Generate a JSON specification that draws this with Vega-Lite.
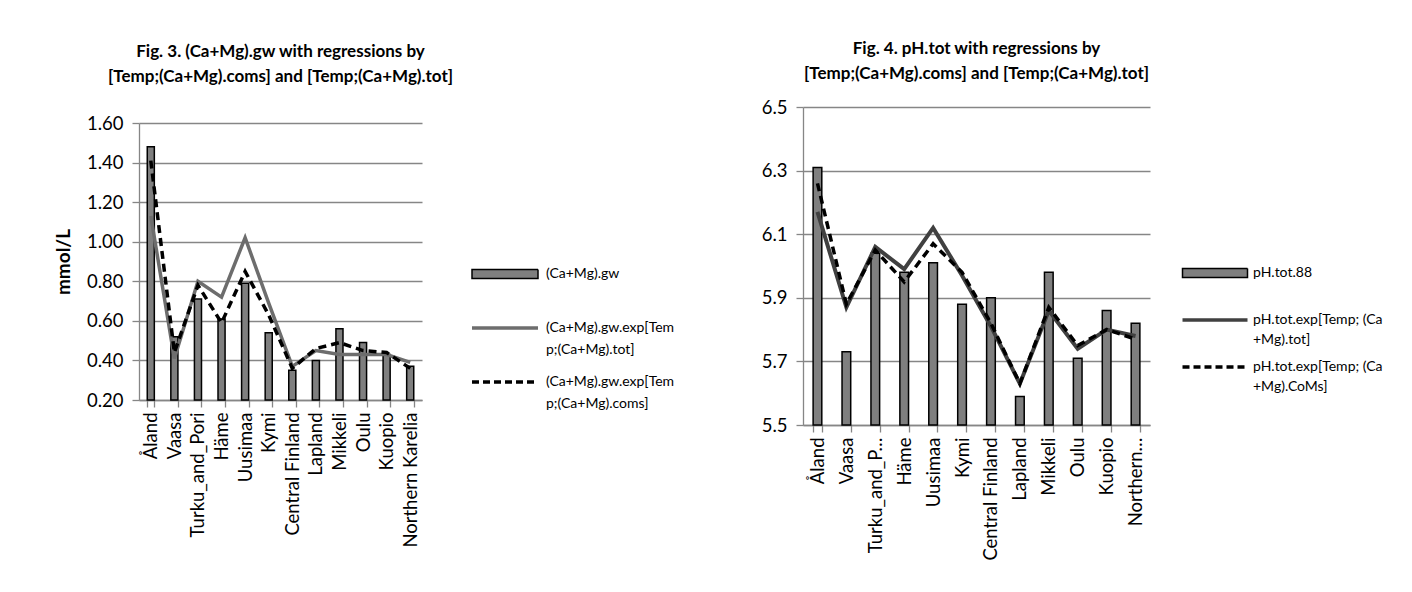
{
  "$schema": "https://vega.github.io/schema/vega-lite/v6.json",
  "background": "white",
  "padding": {"left": 54, "top": 40, "right": 5, "bottom": 5},
  "config": {
    "font": "Lato",
    "view": {"stroke": null},
    "axis": {"labelFont": "Lato", "labelFontSize": 18.5, "labelColor": "#000000", "domainColor": "#868686", "tickColor": "#868686", "gridColor": "#868686", "domainWidth": 1.3, "tickWidth": 1.3, "gridWidth": 1.3, "tickSize": 7, "labelOverlap": false},
    "title": {"font": "Lato", "fontSize": 17, "fontWeight": "bold", "color": "#000000", "anchor": "middle", "frame": "group", "lineHeight": 25}
  },
  "datasets": {
    "gw": [
      {"region": "Åland", "series": "(Ca+Mg).gw", "value": 1.48},
      {"region": "Vaasa", "series": "(Ca+Mg).gw", "value": 0.52},
      {"region": "Turku_and_Pori", "series": "(Ca+Mg).gw", "value": 0.71},
      {"region": "Häme", "series": "(Ca+Mg).gw", "value": 0.61},
      {"region": "Uusimaa", "series": "(Ca+Mg).gw", "value": 0.79},
      {"region": "Kymi", "series": "(Ca+Mg).gw", "value": 0.54},
      {"region": "Central Finland", "series": "(Ca+Mg).gw", "value": 0.35},
      {"region": "Lapland", "series": "(Ca+Mg).gw", "value": 0.40},
      {"region": "Mikkeli", "series": "(Ca+Mg).gw", "value": 0.56},
      {"region": "Oulu", "series": "(Ca+Mg).gw", "value": 0.49},
      {"region": "Kuopio", "series": "(Ca+Mg).gw", "value": 0.43},
      {"region": "Northern Karelia", "series": "(Ca+Mg).gw", "value": 0.37},
      {"region": "Åland", "series": "(Ca+Mg).gw.exp[Temp;(Ca+Mg).tot]", "value": 1.13},
      {"region": "Vaasa", "series": "(Ca+Mg).gw.exp[Temp;(Ca+Mg).tot]", "value": 0.41},
      {"region": "Turku_and_Pori", "series": "(Ca+Mg).gw.exp[Temp;(Ca+Mg).tot]", "value": 0.80},
      {"region": "Häme", "series": "(Ca+Mg).gw.exp[Temp;(Ca+Mg).tot]", "value": 0.72},
      {"region": "Uusimaa", "series": "(Ca+Mg).gw.exp[Temp;(Ca+Mg).tot]", "value": 1.02},
      {"region": "Kymi", "series": "(Ca+Mg).gw.exp[Temp;(Ca+Mg).tot]", "value": 0.69},
      {"region": "Central Finland", "series": "(Ca+Mg).gw.exp[Temp;(Ca+Mg).tot]", "value": 0.37},
      {"region": "Lapland", "series": "(Ca+Mg).gw.exp[Temp;(Ca+Mg).tot]", "value": 0.45},
      {"region": "Mikkeli", "series": "(Ca+Mg).gw.exp[Temp;(Ca+Mg).tot]", "value": 0.43},
      {"region": "Oulu", "series": "(Ca+Mg).gw.exp[Temp;(Ca+Mg).tot]", "value": 0.43},
      {"region": "Kuopio", "series": "(Ca+Mg).gw.exp[Temp;(Ca+Mg).tot]", "value": 0.43},
      {"region": "Northern Karelia", "series": "(Ca+Mg).gw.exp[Temp;(Ca+Mg).tot]", "value": 0.39},
      {"region": "Åland", "series": "(Ca+Mg).gw.exp[Temp;(Ca+Mg).coms]", "value": 1.41},
      {"region": "Vaasa", "series": "(Ca+Mg).gw.exp[Temp;(Ca+Mg).coms]", "value": 0.44},
      {"region": "Turku_and_Pori", "series": "(Ca+Mg).gw.exp[Temp;(Ca+Mg).coms]", "value": 0.78},
      {"region": "Häme", "series": "(Ca+Mg).gw.exp[Temp;(Ca+Mg).coms]", "value": 0.59},
      {"region": "Uusimaa", "series": "(Ca+Mg).gw.exp[Temp;(Ca+Mg).coms]", "value": 0.85},
      {"region": "Kymi", "series": "(Ca+Mg).gw.exp[Temp;(Ca+Mg).coms]", "value": 0.63},
      {"region": "Central Finland", "series": "(Ca+Mg).gw.exp[Temp;(Ca+Mg).coms]", "value": 0.36},
      {"region": "Lapland", "series": "(Ca+Mg).gw.exp[Temp;(Ca+Mg).coms]", "value": 0.46},
      {"region": "Mikkeli", "series": "(Ca+Mg).gw.exp[Temp;(Ca+Mg).coms]", "value": 0.49},
      {"region": "Oulu", "series": "(Ca+Mg).gw.exp[Temp;(Ca+Mg).coms]", "value": 0.45},
      {"region": "Kuopio", "series": "(Ca+Mg).gw.exp[Temp;(Ca+Mg).coms]", "value": 0.44},
      {"region": "Northern Karelia", "series": "(Ca+Mg).gw.exp[Temp;(Ca+Mg).coms]", "value": 0.36}
    ],
    "ph": [
      {"region": "Åland", "series": "pH.tot.88", "value": 6.31},
      {"region": "Vaasa", "series": "pH.tot.88", "value": 5.73},
      {"region": "Turku_and_Pori", "series": "pH.tot.88", "value": 6.04},
      {"region": "Häme", "series": "pH.tot.88", "value": 5.98},
      {"region": "Uusimaa", "series": "pH.tot.88", "value": 6.01},
      {"region": "Kymi", "series": "pH.tot.88", "value": 5.88},
      {"region": "Central Finland", "series": "pH.tot.88", "value": 5.90},
      {"region": "Lapland", "series": "pH.tot.88", "value": 5.59},
      {"region": "Mikkeli", "series": "pH.tot.88", "value": 5.98},
      {"region": "Oulu", "series": "pH.tot.88", "value": 5.71},
      {"region": "Kuopio", "series": "pH.tot.88", "value": 5.86},
      {"region": "Northern Karelia", "series": "pH.tot.88", "value": 5.82},
      {"region": "Åland", "series": "pH.tot.exp[Temp; (Ca+Mg).tot]", "value": 6.17},
      {"region": "Vaasa", "series": "pH.tot.exp[Temp; (Ca+Mg).tot]", "value": 5.87},
      {"region": "Turku_and_Pori", "series": "pH.tot.exp[Temp; (Ca+Mg).tot]", "value": 6.06},
      {"region": "Häme", "series": "pH.tot.exp[Temp; (Ca+Mg).tot]", "value": 5.99},
      {"region": "Uusimaa", "series": "pH.tot.exp[Temp; (Ca+Mg).tot]", "value": 6.12},
      {"region": "Kymi", "series": "pH.tot.exp[Temp; (Ca+Mg).tot]", "value": 5.97},
      {"region": "Central Finland", "series": "pH.tot.exp[Temp; (Ca+Mg).tot]", "value": 5.81},
      {"region": "Lapland", "series": "pH.tot.exp[Temp; (Ca+Mg).tot]", "value": 5.63},
      {"region": "Mikkeli", "series": "pH.tot.exp[Temp; (Ca+Mg).tot]", "value": 5.86},
      {"region": "Oulu", "series": "pH.tot.exp[Temp; (Ca+Mg).tot]", "value": 5.74},
      {"region": "Kuopio", "series": "pH.tot.exp[Temp; (Ca+Mg).tot]", "value": 5.80},
      {"region": "Northern Karelia", "series": "pH.tot.exp[Temp; (Ca+Mg).tot]", "value": 5.78},
      {"region": "Åland", "series": "pH.tot.exp[Temp; (Ca+Mg).CoMs]", "value": 6.26},
      {"region": "Vaasa", "series": "pH.tot.exp[Temp; (Ca+Mg).CoMs]", "value": 5.88},
      {"region": "Turku_and_Pori", "series": "pH.tot.exp[Temp; (Ca+Mg).CoMs]", "value": 6.05},
      {"region": "Häme", "series": "pH.tot.exp[Temp; (Ca+Mg).CoMs]", "value": 5.95},
      {"region": "Uusimaa", "series": "pH.tot.exp[Temp; (Ca+Mg).CoMs]", "value": 6.07},
      {"region": "Kymi", "series": "pH.tot.exp[Temp; (Ca+Mg).CoMs]", "value": 5.98},
      {"region": "Central Finland", "series": "pH.tot.exp[Temp; (Ca+Mg).CoMs]", "value": 5.82},
      {"region": "Lapland", "series": "pH.tot.exp[Temp; (Ca+Mg).CoMs]", "value": 5.63},
      {"region": "Mikkeli", "series": "pH.tot.exp[Temp; (Ca+Mg).CoMs]", "value": 5.87},
      {"region": "Oulu", "series": "pH.tot.exp[Temp; (Ca+Mg).CoMs]", "value": 5.75},
      {"region": "Kuopio", "series": "pH.tot.exp[Temp; (Ca+Mg).CoMs]", "value": 5.80},
      {"region": "Northern Karelia", "series": "pH.tot.exp[Temp; (Ca+Mg).CoMs]", "value": 5.77}
    ]
  },
  "spacing": 86,
  "resolve": {"scale": {"color": "independent"}, "legend": {"color": "independent"}},
  "hconcat": [
    {
      "width": 283,
      "height": 293,
      "title": {"text": ["Fig. 3. (Ca+Mg).gw with regressions by", "[Temp;(Ca+Mg).coms] and [Temp;(Ca+Mg).tot]"], "offset": 21},
      "data": {"name": "gw"},
      "encoding": {
        "x": {"field": "region", "type": "nominal", "sort": null,
          "scale": {"paddingInner": 0.7, "paddingOuter": 0.35},
          "axis": {"title": null, "labelAngle": -90, "tickBand": "extent", "labelPadding": 5}}
      },
      "layer": [
        {
          "transform": [{"filter": "datum.series == '(Ca+Mg).gw'"}],
          "mark": {"type": "bar", "fill": "#7f7f7f", "stroke": "#000000", "strokeWidth": 1.5},
          "encoding": {
            "y": {"field": "value", "type": "quantitative",
              "scale": {"domain": [0.2, 1.6], "nice": false, "zero": false, "range": [293, 16]},
              "axis": {"values": [0.2, 0.4, 0.6, 0.8, 1.0, 1.2, 1.4, 1.6], "format": ".2f", "title": "mmol/L", "titleFont": "Lato", "titleFontSize": 19, "titleFontWeight": "bold", "titleColor": "#000000", "titlePadding": 13, "labelPadding": 9, "grid": true}},
            "y2": {"datum": 0.2}
          }
        },
        {
          "transform": [{"filter": "datum.series == '(Ca+Mg).gw.exp[Temp;(Ca+Mg).tot]'"}],
          "mark": {"type": "line", "strokeWidth": 3.5},
          "encoding": {
            "y": {"field": "value", "type": "quantitative"},
            "color": {"field": "series", "type": "nominal",
              "scale": {"domain": ["(Ca+Mg).gw", "(Ca+Mg).gw.exp[Temp;(Ca+Mg).tot]", "(Ca+Mg).gw.exp[Temp;(Ca+Mg).coms]"], "range": ["#000000", "#6d6d6d", "#000000"]},
              "legend": {
                "title": null, "orient": "none", "legendX": 359, "legendY": 160,
                "symbolSize": 4356, "labelFont": "Lato", "labelFontSize": 14, "labelColor": "#000000",
                "labelOffset": 34, "rowPadding": 18, "labelLimit": 300,
                "labelExpr": "length(datum.label) < 20 ? [datum.label, ''] : [substring(datum.label, 0, 18), substring(datum.label, 18)]",
                "encode": {
                  "symbols": {"update": {
                    "shape": {"signal": "datum.value == '(Ca+Mg).gw' ? 'M-1,-0.14H1V0.14H-1Z' : 'M-1,0H1'"},
                    "fill": {"signal": "datum.value == '(Ca+Mg).gw' ? '#7f7f7f' : 'transparent'"},
                    "stroke": {"signal": "datum.value == '(Ca+Mg).gw.exp[Temp;(Ca+Mg).tot]' ? '#6d6d6d' : '#000000'"},
                    "strokeWidth": {"signal": "datum.value == '(Ca+Mg).gw' ? 1.5 : 3.5"},
                    "strokeDash": {"signal": "datum.value == '(Ca+Mg).gw.exp[Temp;(Ca+Mg).coms]' ? [7, 4] : [1, 0]"},
                    "opacity": {"value": 1}
                  }},
                  "labels": {"update": {"lineHeight": {"value": 22}}}
                }
              }
            }
          }
        },
        {
          "transform": [{"filter": "datum.series == '(Ca+Mg).gw.exp[Temp;(Ca+Mg).coms]'"}],
          "mark": {"type": "line", "stroke": "#000000", "strokeWidth": 3.5, "strokeDash": [8, 5]},
          "encoding": {"y": {"field": "value", "type": "quantitative"}}
        }
      ]
    },
    {
      "width": 347,
      "height": 318,
      "title": {"text": ["Fig. 4. pH.tot with regressions by", "[Temp;(Ca+Mg).coms] and [Temp;(Ca+Mg).tot]"], "offset": 15},
      "data": {"name": "ph"},
      "encoding": {
        "x": {"field": "region", "type": "nominal", "sort": null,
          "scale": {"paddingInner": 0.7, "paddingOuter": 0.35},
          "axis": {"title": null, "labelAngle": -90, "tickBand": "extent", "labelPadding": 5,
            "labelExpr": "datum.label == 'Turku_and_Pori' ? 'Turku_and_P…' : datum.label == 'Northern Karelia' ? 'Northern…' : datum.label"}}
      },
      "layer": [
        {
          "transform": [{"filter": "datum.series == 'pH.tot.88'"}],
          "mark": {"type": "bar", "fill": "#7f7f7f", "stroke": "#000000", "strokeWidth": 1.5},
          "encoding": {
            "y": {"field": "value", "type": "quantitative",
              "scale": {"domain": [5.5, 6.5], "nice": false, "zero": false},
              "axis": {"values": [5.5, 5.7, 5.9, 6.1, 6.3, 6.5], "format": ".1f", "title": null, "labelPadding": 9, "grid": true}},
            "y2": {"datum": 5.5}
          }
        },
        {
          "transform": [{"filter": "datum.series == 'pH.tot.exp[Temp; (Ca+Mg).tot]'"}],
          "mark": {"type": "line", "strokeWidth": 4},
          "encoding": {
            "y": {"field": "value", "type": "quantitative"},
            "color": {"field": "series", "type": "nominal",
              "scale": {"domain": ["pH.tot.88", "pH.tot.exp[Temp; (Ca+Mg).tot]", "pH.tot.exp[Temp; (Ca+Mg).CoMs]"], "range": ["#000000", "#404040", "#000000"]},
              "legend": {
                "title": null, "orient": "none", "legendX": 405, "legendY": 159,
                "symbolSize": 4225, "labelFont": "Lato", "labelFontSize": 14, "labelColor": "#000000",
                "labelOffset": 31, "rowPadding": 13, "labelLimit": 300,
                "labelExpr": "length(datum.label) < 20 ? [datum.label, ''] : [substring(datum.label, 0, 20), substring(datum.label, 20)]",
                "encode": {
                  "symbols": {"update": {
                    "shape": {"signal": "datum.value == 'pH.tot.88' ? 'M-1,-0.14H1V0.14H-1Z' : 'M-1,0H1'"},
                    "fill": {"signal": "datum.value == 'pH.tot.88' ? '#7f7f7f' : 'transparent'"},
                    "stroke": {"signal": "datum.value == 'pH.tot.exp[Temp; (Ca+Mg).tot]' ? '#404040' : '#000000'"},
                    "strokeWidth": {"signal": "datum.value == 'pH.tot.88' ? 1.5 : 3.5"},
                    "strokeDash": {"signal": "datum.value == 'pH.tot.exp[Temp; (Ca+Mg).CoMs]' ? [7, 4] : [1, 0]"},
                    "opacity": {"value": 1}
                  }},
                  "labels": {"update": {"lineHeight": {"value": 20}}}
                }
              }
            }
          }
        },
        {
          "transform": [{"filter": "datum.series == 'pH.tot.exp[Temp; (Ca+Mg).CoMs]'"}],
          "mark": {"type": "line", "stroke": "#000000", "strokeWidth": 3.5, "strokeDash": [8, 5]},
          "encoding": {"y": {"field": "value", "type": "quantitative"}}
        }
      ]
    }
  ]
}
